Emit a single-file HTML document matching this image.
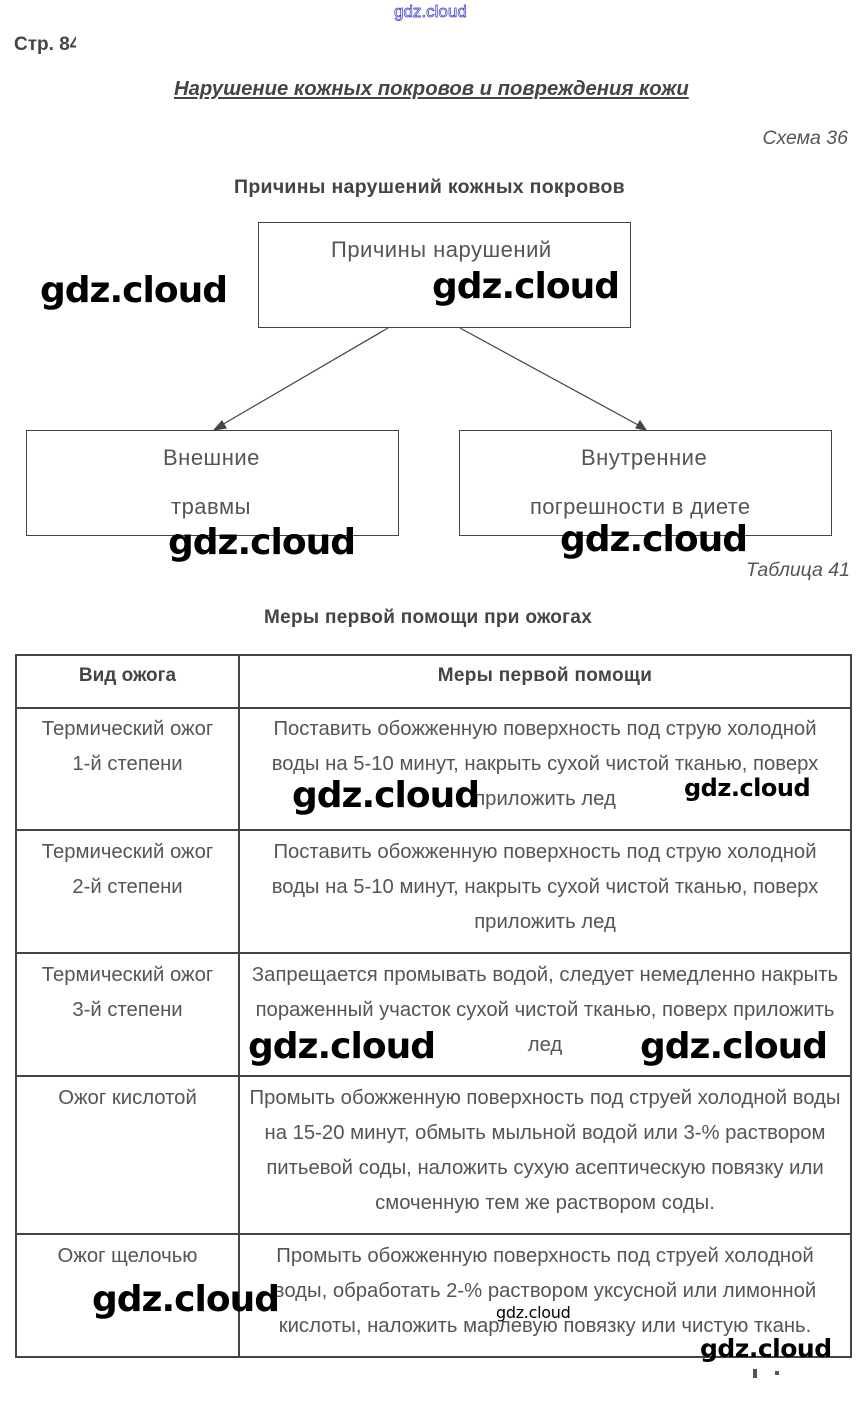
<!DOCTYPE html>
<html><head><meta charset="utf-8"><style>
body{margin:0;width:865px;height:1424px;background:#fff;position:relative;font-family:"Liberation Sans",sans-serif;color:#555;overflow:hidden}
.a{position:absolute;white-space:nowrap}
.c{position:absolute;text-align:center;font-size:20.3px;line-height:35px;white-space:nowrap}
.box{position:absolute;border:1px solid #444;box-sizing:border-box}
.wm{position:absolute;font-family:"DejaVu Sans",sans-serif;font-weight:bold;color:#000;font-size:36px;letter-spacing:-1px;white-space:nowrap}
.h{position:absolute;left:16px;width:835px;height:2px;background:#444}
.v{position:absolute;width:2px;background:#444}
</style></head><body>
<div class="a" style="left:394px;top:2px;font-size:17px;color:#fff;-webkit-text-stroke:0.7px #33c">gdz.cloud</div>
<div class="a" style="left:14px;top:34px;font-size:19px;font-weight:bold;color:#444">Стр. 8<span style="display:inline-block;width:6px;overflow:hidden;vertical-align:top">4</span></div>
<div class="a" style="left:174px;top:78px;font-size:20.3px;font-weight:bold;font-style:italic;text-decoration:underline;color:#444">Нарушение кожных покровов и повреждения кожи</div>
<div class="a" style="right:17px;top:127px;font-size:19.5px;font-style:italic">Схема 36</div>
<div class="a" style="left:234px;top:176px;font-size:19.5px;font-weight:bold;color:#444;letter-spacing:0.3px">Причины нарушений кожных покровов</div>
<div class="box" style="left:258px;top:222px;width:373px;height:106px"></div>
<div class="a" style="left:331px;top:237px;font-size:22px;letter-spacing:0.5px">Причины нарушений</div>
<svg class="a" style="left:0;top:0" width="865" height="440"><g stroke="#444" stroke-width="1.2" fill="#444">
<line x1="388" y1="328" x2="220" y2="426"/><polygon points="214,430 222,421 226,428"/>
<line x1="460" y1="328" x2="640" y2="426"/><polygon points="646,430 636,428 640,421"/></g></svg>
<div class="box" style="left:26px;top:430px;width:373px;height:106px"></div>
<div class="a" style="left:163px;top:445px;font-size:22px;letter-spacing:0.5px">Внешние</div>
<div class="a" style="left:171px;top:494px;font-size:22px;letter-spacing:0.5px">травмы</div>
<div class="box" style="left:459px;top:430px;width:373px;height:106px"></div>
<div class="a" style="left:581px;top:445px;font-size:22px;letter-spacing:0.5px">Внутренние</div>
<div class="a" style="left:530px;top:494px;font-size:22px;letter-spacing:0.3px">погрешности в диете</div>
<div class="a" style="right:15px;top:559px;font-size:19.5px;font-style:italic">Таблица 41</div>
<div class="a" style="left:264px;top:607px;font-size:19px;font-weight:bold;color:#444;letter-spacing:0.3px">Меры первой помощи при ожогах</div>
<div class="h" style="top:654px"></div><div class="h" style="top:707px"></div><div class="h" style="top:829px"></div><div class="h" style="top:952px"></div><div class="h" style="top:1075px"></div><div class="h" style="top:1233px"></div><div class="h" style="top:1356px"></div>
<div class="v" style="left:15px;top:654px;height:704px"></div><div class="v" style="left:238px;top:654px;height:704px"></div><div class="v" style="left:850px;top:654px;height:704px"></div>
<div class="c" style="left:16px;width:223px;top:658px;font-weight:bold;color:#444;font-size:19px">Вид ожога</div>
<div class="c" style="left:239px;width:612px;top:658px;font-weight:bold;color:#444;font-size:19px;letter-spacing:0.3px">Меры первой помощи</div>
<div class="c" style="left:16px;width:223px;top:712px">Термический ожог<br>1-й степени</div>
<div class="c" style="left:239px;width:612px;top:712px">Поставить обожженную поверхность под струю холодной<br>воды на 5-10 минут, накрыть сухой чистой тканью, поверх<br>приложить лед</div>
<div class="c" style="left:16px;width:223px;top:835px">Термический ожог<br>2-й степени</div>
<div class="c" style="left:239px;width:612px;top:835px">Поставить обожженную поверхность под струю холодной<br>воды на 5-10 минут, накрыть сухой чистой тканью, поверх<br>приложить лед</div>
<div class="c" style="left:16px;width:223px;top:958px">Термический ожог<br>3-й степени</div>
<div class="c" style="left:239px;width:612px;top:958px">Запрещается промывать водой, следует немедленно накрыть<br>пораженный участок сухой чистой тканью, поверх приложить<br>лед</div>
<div class="c" style="left:16px;width:223px;top:1081px">Ожог кислотой</div>
<div class="c" style="left:239px;width:612px;top:1081px">Промыть обожженную поверхность под струей холодной воды<br>на 15-20 минут, обмыть мыльной водой или 3-% раствором<br>питьевой соды, наложить сухую асептическую повязку или<br>смоченную тем же раствором соды.</div>
<div class="c" style="left:16px;width:223px;top:1239px">Ожог щелочью</div>
<div class="c" style="left:239px;width:612px;top:1239px">Промыть обожженную поверхность под струей холодной<br>воды, обработать 2-% раствором уксусной или лимонной<br>кислоты, наложить марлевую повязку или чистую ткань.</div>
<div class="a" style="left:753px;top:1369px;width:4px;height:9px;background:#555"></div>
<div class="a" style="left:775px;top:1371px;width:4px;height:4px;background:#555"></div>
<div class="wm" style="left:40px;top:270px">gdz.cloud</div>
<div class="wm" style="left:432px;top:266px">gdz.cloud</div>
<div class="wm" style="left:168px;top:522px">gdz.cloud</div>
<div class="wm" style="left:560px;top:519px">gdz.cloud</div>
<div class="wm" style="left:292px;top:775px">gdz.cloud</div>
<div class="wm" style="left:684px;top:774px;font-size:24px;letter-spacing:-0.5px">gdz.cloud</div>
<div class="wm" style="left:248px;top:1026px">gdz.cloud</div>
<div class="wm" style="left:640px;top:1026px">gdz.cloud</div>
<div class="wm" style="left:92px;top:1279px">gdz.cloud</div>
<div class="wm" style="left:496px;top:1303px;font-size:16px;letter-spacing:-0.3px;font-weight:normal">gdz.cloud</div>
<div class="wm" style="left:700px;top:1334px;font-size:25px;letter-spacing:-0.5px">gdz.cloud</div>
</body></html>
